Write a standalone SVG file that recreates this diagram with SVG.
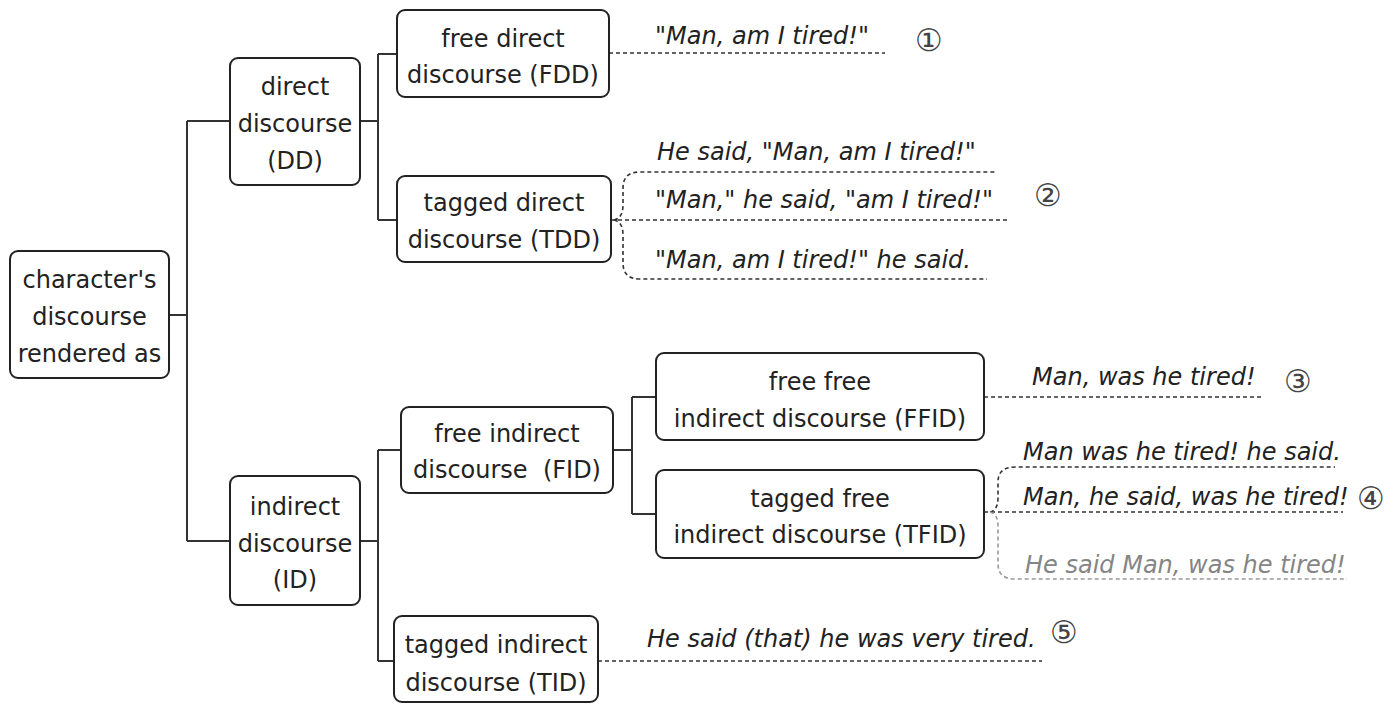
<svg xmlns="http://www.w3.org/2000/svg" width="1400" height="704" viewBox="0 0 1400 704">
  <style>
    .box { fill: #ffffff; stroke: #222222; stroke-width: 2; }
    .lbl { font-family: "DejaVu Sans", "Noto Sans", sans-serif; font-size: 24px; fill: #222222; text-anchor: middle; }
    .ex { font-family: "DejaVu Sans", "Noto Sans", sans-serif; font-size: 24px; font-style: italic; fill: #222222; }
    .ex.grey { fill: #858585; }
    .num { font-family: "DejaVu Sans", sans-serif; font-size: 31px; fill: #444444; text-anchor: middle; }
    .tree { fill: none; stroke: #333333; stroke-width: 2; }
    .dash { fill: none; stroke: #333333; stroke-width: 1.6; stroke-dasharray: 4 3; }
    .dash.grey { stroke: #9a9a9a; }
  </style>
  <rect width="1400" height="704" fill="#ffffff"/>

  <!-- tree connectors and dashed example leaders -->
  <g id="connectors">
    <path class="tree" d="M169,315 H187 M187,121 V541 M187,121 H230 M187,541 H230"/>
    <path class="tree" d="M360,121 H378 M378,54 V220 M378,54 H397 M378,220 H397"/>
    <path class="tree" d="M360,541 H378 M378,450 V661 M378,450 H401 M378,661 H394"/>
    <path class="tree" d="M613,450 H632 M632,397 V514 M632,397 H656 M632,514 H656"/>

    <path class="dash" d="M609,53 H885"/>
    <path class="dash" d="M611,220 H1007"/>
    <path class="dash" d="M614,220 Q623,218 623,205 V188 Q623,172 640,172 H997"/>
    <path class="dash" d="M614,220 Q623,222 623,235 V263 Q623,279 640,279 H987"/>

    <path class="dash" d="M984,397 H1262"/>
    <path class="dash" d="M984,512 H1343"/>
    <path class="dash" d="M990,512 Q998,510 998,498 V482 Q998,467 1015,467 H1335"/>
    <path class="dash grey" d="M990,512 Q998,514 998,526 V564 Q998,579 1015,579 H1347"/>

    <path class="dash" d="M598,661 H1042"/>
  </g>

  <g id="root">
    <rect class="box" x="10" y="251" width="159" height="127" rx="8"/>
    <text class="lbl" x="89.5" y="288">character's</text>
    <text class="lbl" x="89.5" y="325">discourse</text>
    <text class="lbl" x="89.5" y="362">rendered as</text>
  </g>

  <g id="dd">
    <rect class="box" x="230" y="58" width="130" height="127" rx="8"/>
    <text class="lbl" x="295" y="95">direct</text>
    <text class="lbl" x="295" y="132">discourse</text>
    <text class="lbl" x="295" y="169">(DD)</text>
  </g>

  <g id="id">
    <rect class="box" x="230" y="476" width="130" height="129" rx="8"/>
    <text class="lbl" x="295" y="515">indirect</text>
    <text class="lbl" x="295" y="552">discourse</text>
    <text class="lbl" x="295" y="588">(ID)</text>
  </g>

  <g id="fdd">
    <rect class="box" x="397" y="10" width="212" height="87" rx="8"/>
    <text class="lbl" x="503" y="47">free direct</text>
    <text class="lbl" x="503" y="83">discourse (FDD)</text>
  </g>

  <g id="tdd">
    <rect class="box" x="397" y="176" width="214" height="86" rx="8"/>
    <text class="lbl" x="504" y="211">tagged direct</text>
    <text class="lbl" x="504" y="248">discourse (TDD)</text>
  </g>

  <g id="fid">
    <rect class="box" x="401" y="407" width="212" height="86" rx="8"/>
    <text class="lbl" x="507" y="442">free indirect</text>
    <text class="lbl" x="507" y="478" xml:space="preserve">discourse  (FID)</text>
  </g>

  <g id="tid">
    <rect class="box" x="394" y="616" width="204" height="86" rx="8"/>
    <text class="lbl" x="496" y="653">tagged indirect</text>
    <text class="lbl" x="496" y="691">discourse (TID)</text>
  </g>

  <g id="ffid">
    <rect class="box" x="656" y="353" width="328" height="87" rx="8"/>
    <text class="lbl" x="820" y="390">free free</text>
    <text class="lbl" x="820" y="427">indirect discourse (FFID)</text>
  </g>

  <g id="tfid">
    <rect class="box" x="656" y="470" width="328" height="88" rx="8"/>
    <text class="lbl" x="820" y="507">tagged free</text>
    <text class="lbl" x="820" y="543">indirect discourse (TFID)</text>
  </g>

  <!-- example sentences -->
  <g id="examples">
    <text class="ex" x="655" y="44">"Man, am I tired!"</text>
    <text class="ex" x="657" y="160">He said, "Man, am I tired!"</text>
    <text class="ex" x="655" y="208">"Man," he said, "am I tired!"</text>
    <text class="ex" x="655" y="268">"Man, am I tired!" he said.</text>
    <text class="ex" x="1032" y="385">Man, was he tired!</text>
    <text class="ex" x="1023" y="460">Man was he tired! he said.</text>
    <text class="ex" x="1023" y="505">Man, he said, was he tired!</text>
    <text class="ex grey" x="1025" y="573">He said Man, was he tired!</text>
    <text class="ex" x="647" y="647">He said (that) he was very tired.</text>
  </g>

  <g id="numbers">
    <text class="num" x="929" y="51">①</text>
    <text class="num" x="1048" y="206">②</text>
    <text class="num" x="1298" y="392">③</text>
    <text class="num" x="1371" y="509">④</text>
    <text class="num" x="1064" y="643">⑤</text>
  </g>
</svg>
